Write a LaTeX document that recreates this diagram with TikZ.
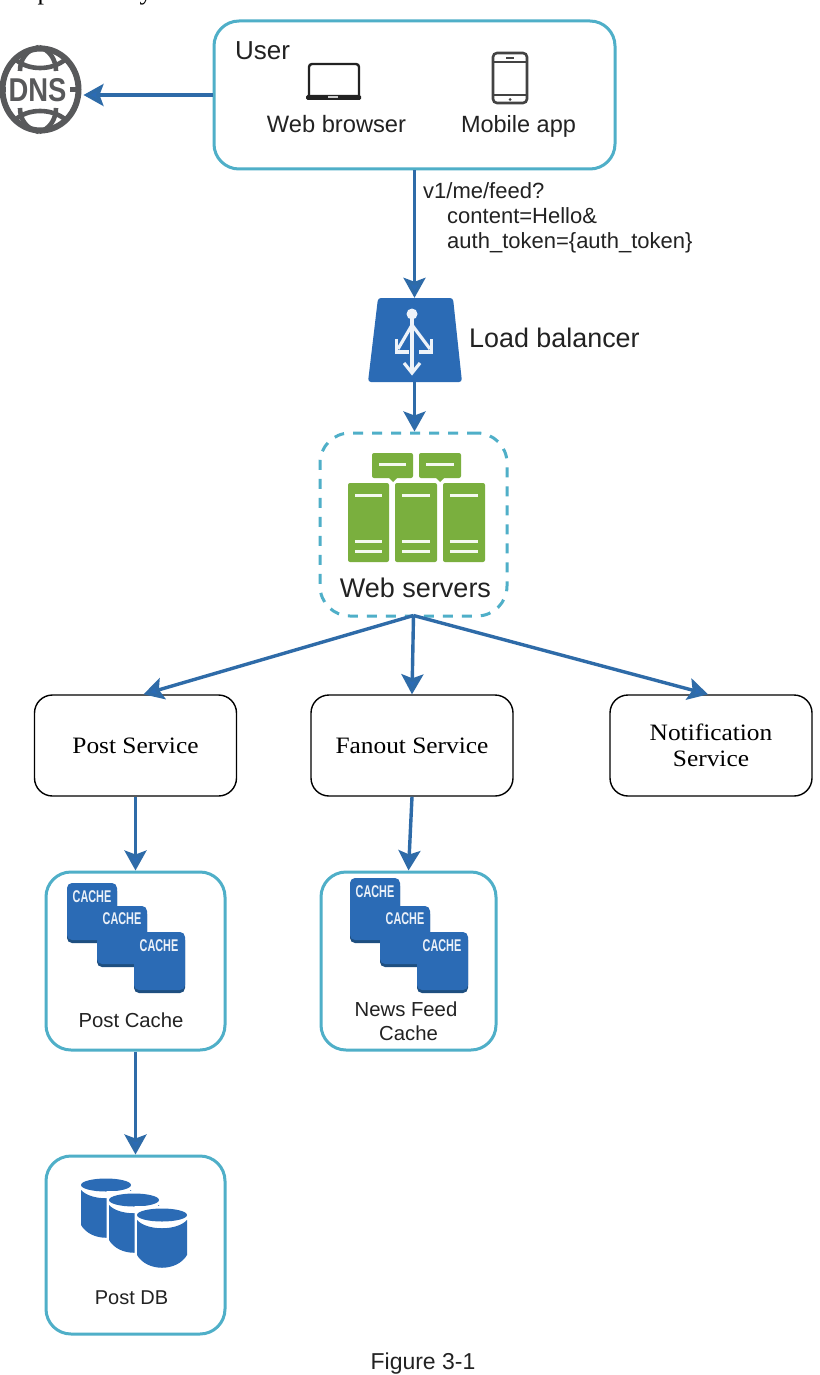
\documentclass[tikz,border=0pt]{standalone}
\usepackage{fontspec}
\usetikzlibrary{arrows.meta,shapes.geometric}
\setmainfont{Liberation Sans}
\newfontfamily\svcfont[FakeStretch=1.08]{Liberation Serif}
\newfontfamily\topfont{Liberation Serif}
\newfontfamily\condfont[FakeStretch=0.64]{Liberation Sans}
\newfontfamily\dnsfont[FakeStretch=0.83]{Liberation Sans}
\newcommand{\pxs}[1]{\fontsize{#1}{#1}\selectfont}
\newcommand{\cachetop}{0}
\definecolor{tealline}{HTML}{4FAFC8}
\definecolor{flow}{HTML}{2E6BA8}
\definecolor{iconblue}{HTML}{2B6BB5}
\definecolor{icondark}{HTML}{1E4F80}
\definecolor{srvgreen}{HTML}{7AAF3E}
\definecolor{dnsgray}{HTML}{58595B}
\definecolor{ink}{HTML}{222222}
\tikzset{
  x=1pt,y=-1pt,
  panel/.style={draw=tealline,line width=3pt,rounded corners=25pt,fill=white,inner sep=0pt},
  service/.style={draw=black,line width=1.4pt,rounded corners=18pt,fill=white,minimum width=202pt,minimum height=101pt,inner sep=0pt,align=center,font=\svcfont\pxs{23.5},text=black},
  flowarrow/.style={draw=flow,line width=3.4pt,-{Stealth[length=20pt,width=22pt,inset=4pt,fill=iconblue]}},
  label/.style={inner sep=0pt,text=ink},
  barline/.style={draw=white!92!srvgreen,line width=3pt},
  srvbox/.style={fill=srvgreen,rounded corners=2pt},
  cachesq/.style={fill=iconblue,draw=none,rounded corners=5pt},
  cacheshadow/.style={fill=icondark,draw=none,rounded corners=5pt},
  cachetext/.style={inner sep=0pt,text=white!90!iconblue,font=\condfont\bfseries\pxs{17}},
  lbstroke/.style={draw=white!92!iconblue,line width=3.2pt},
  cachestack/.pic={
    \fill[cacheshadow] (0,\cachetop+3) rectangle (50,60);
    \fill[cachesq] (0,\cachetop) rectangle (50,57);
    \fill[cacheshadow] (30,26) rectangle (80,84);
    \fill[cachesq] (30,23) rectangle (80,81);
    \fill[cacheshadow] (67,52) rectangle (118,110);
    \fill[cachesq] (67,49) rectangle (118,107);
    \node[cachetext] (-a) at (25,\cachetop+13.5) {CACHE};
    \node[cachetext] (-b) at (55,36) {CACHE};
    \node[cachetext] (-c) at (92,63) {CACHE};
  }
}
\begin{document}
\begin{tikzpicture}
\useasboundingbox (0,0) rectangle (819,1375);
\clip (0,0) rectangle (819,1375);
\fill[white] (0,0) rectangle (819,1375);

% clipped line of running text above the figure
\node[inner sep=0pt,anchor=base,font=\topfont\pxs{26},text=black] (topp) at (44,0) {p};
\node[inner sep=0pt,anchor=base,font=\topfont\pxs{26},text=black] (topy) at (146,0) {y};

% panels
\node[panel,minimum width=401pt,minimum height=148pt] (user) at (414.5,95) {};
\node[panel,minimum width=179pt,minimum height=178pt] (postcache) at (135.5,961) {};
\node[panel,minimum width=175pt,minimum height=178pt] (newscache) at (408.5,961) {};
\node[panel,minimum width=179pt,minimum height=178pt] (postdb) at (135.5,1245) {};
\node[draw=tealline,line width=3pt,dash pattern=on 10pt off 9pt,rounded corners=30pt,inner sep=0pt,minimum width=187pt,minimum height=183pt] (web) at (413.5,524.5) {};

% DNS icon
\node[ellipse,draw=dnsgray,line width=6pt,minimum width=76pt,minimum height=82pt,inner sep=0pt] (dns) at (40.5,89.5) {};
\begin{scope}[draw=dnsgray,line width=4.6pt]
  \draw (15,59) .. controls (28,71) and (52,71) .. (66,59);
  \draw (15,120) .. controls (28,108) and (52,108) .. (66,120);
  \draw (39,47) .. controls (26,50) and (20,60) .. (20,71);
  \draw (39,47) .. controls (50,50) and (56,60) .. (56,71);
  \draw (39,132) .. controls (26,129) and (20,119) .. (20,108);
  \draw (39,132) .. controls (50,129) and (56,119) .. (56,108);
  \draw (0,89.5) -- (6,89.5) (70,89.5) -- (80,89.5);
\end{scope}
\node[inner sep=0pt,font=\dnsfont\bfseries\pxs{33},text=dnsgray] (dnstext) at (37.5,90) {DNS};

% user panel content
\node[label,anchor=base west,font=\pxs{26}] (usertext) at (235,60) {User};
\draw[ink,line width=2.4pt,rounded corners=3pt] (309,96) -- (309,64) -- (359,64) -- (359,96);
\fill[ink,rounded corners=1.5pt] (306,95) rectangle (361,100);
\fill[white!80!black] (328,96) rectangle (338,98);
\draw[ink!85!white,line width=2.6pt,rounded corners=4pt] (493,53) rectangle (527,103);
\draw[ink!85!white,line width=1.6pt] (493,62) -- (527,62) (493,95) -- (527,95);
\draw[ink!85!white,line width=1.4pt] (506,58) -- (514,58);
\fill[ink!85!white] (510,99.5) circle (1.5);
\node[label,anchor=base,font=\pxs{23.7}] (webbrowser) at (336.5,133) {Web browser};
\node[label,anchor=base,font=\pxs{23.5}] (mobileapp) at (518.5,133) {Mobile app};

% request label
\node[label,anchor=base west,font=\pxs{22}] (req1) at (423,198) {v1/me/feed?};
\node[label,anchor=base west,font=\pxs{22}] (req2) at (447,223) {content=Hello\&};
\node[label,anchor=base west,font=\pxs{22}] (req3) at (447,248) {auth\_token=\{auth\_token\}};

% load balancer
\node[inner sep=0pt,minimum width=94pt,minimum height=84pt] (lb) at (414.5,340) {};
\fill[iconblue,rounded corners=3pt] (378,298) -- (453,298) -- (462,382) -- (368,382) -- cycle;
\begin{scope}[lbstroke]
  \fill[white!92!iconblue] (412,314) circle (5.5);
  \draw (412,316) -- (412,372);
  \draw (412,325) -- (398,349);
  \draw (412,325) -- (430,349);
  \draw (396.5,339) -- (396.5,352) -- (409,352);
  \draw (431.5,339) -- (431.5,352) -- (419,352);
  \draw (404,363) -- (412,373) -- (420,363);
\end{scope}
\node[label,anchor=base west,font=\pxs{26.9}] (lbtext) at (469,347) {Load balancer};

% web servers
\fill[srvbox] (372,453) rectangle (413,478);
\fill[srvbox] (419,453) rectangle (461,478);
\fill[srvgreen] (388,477) -- (398,477) -- (393,482) -- cycle;
\fill[srvgreen] (435,477) -- (445,477) -- (440,482) -- cycle;
\draw[barline] (379,464.5) -- (406,464.5);
\draw[barline] (426,464.5) -- (454,464.5);
\foreach \a/\b in {348/389,395/437,443/485}{
  \fill[srvbox] (\a,483) rectangle (\b,562);
  \draw[barline] (\a+7,495) -- (\b-7,495);
  \draw[barline] (\a+7,541) -- (\b-7,541);
  \draw[barline] (\a+7,551) -- (\b-7,551);
}
\node[label,font=\pxs{27}] (webtext) at (415.5,588) {Web servers};

% services
\node[service] (post) at (135.5,745.5) {\raisebox{-3.5pt}{Post Service}};
\node[service] (fanout) at (412,745.5) {\raisebox{-3.5pt}{Fanout Service}};
\node[service,execute at begin node={\setlength{\baselineskip}{26pt}}] (notif) at (711,745.5) {\raisebox{-4pt}{Notification}\\\raisebox{-4pt}{Service}};

% cache icons and labels
\pic (pc) at (67,883) {cachestack};
\renewcommand{\cachetop}{-5}
\pic (nc) at (350,883) {cachestack};
\node[label,font=\pxs{20.3}] (pctext) at (131,1020) {Post Cache};
\node[label,anchor=base,font=\pxs{20.3}] (nctext) at (406,1016) {News Feed};
\node[label,anchor=base,font=\pxs{20.3}] (nctextb) at (408.5,1040) {Cache};

% database icon
\foreach \xa/\ya in {81/1185,109/1200,137/1215}{
  \fill[white] (\xa-2.5,\ya-9) -- (\xa+52.5,\ya-9) -- (\xa+52.5,\ya+41) .. controls (\xa+40,\ya+60) and (\xa+10,\ya+60) .. (\xa-2.5,\ya+41) -- cycle;
  \fill[iconblue] (\xa,\ya+5) -- (\xa,\ya+40) .. controls (\xa+10,\ya+57) and (\xa+40,\ya+57) .. (\xa+50,\ya+40) -- (\xa+50,\ya+5) .. controls (\xa+40,\ya+16) and (\xa+10,\ya+16) .. (\xa,\ya+5) -- cycle;
  \fill[iconblue] (\xa+25,\ya) ellipse (25 and 6.5);
}
\node[label,font=\pxs{20}] (dbtext) at (131.5,1298) {Post DB};

\node[label,font=\pxs{23}] (figtext) at (423,1364) {Figure 3-1};

% connectors
\draw[flowarrow] (user.west) -- ([xshift=2pt]dns.east |- user.west);
\draw[flowarrow] (user.south) -- (lb.north);
\draw[flowarrow] (lb.south) -- (lb.south |- web.north);
\draw[flowarrow] ([yshift=2pt]web.south) -- ([xshift=8pt]post.north);
\draw[flowarrow] ([yshift=2pt]web.south) -- (fanout.north);
\draw[flowarrow] ([yshift=2pt]web.south) -- ([xshift=-3pt]notif.north);
\draw[flowarrow] (post.south) -- (postcache.north);
\draw[flowarrow] (fanout.south) -- (newscache.north);
\draw[flowarrow] (postcache.south) -- (postdb.north);
\end{tikzpicture}
\end{document}
